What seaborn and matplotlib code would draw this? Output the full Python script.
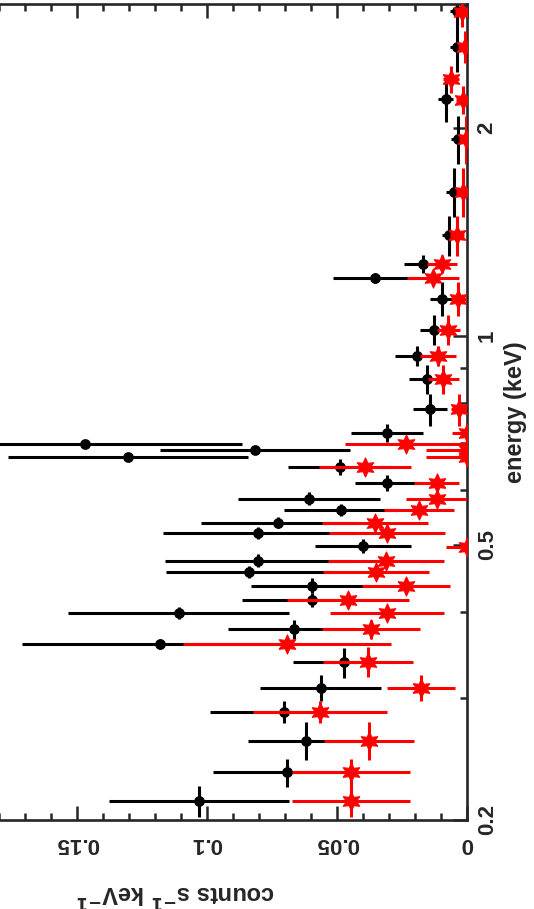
import numpy as np
import pandas as pd
import seaborn as sns
import matplotlib
matplotlib.use("Agg")
import matplotlib.pyplot as plt
from matplotlib.ticker import MultipleLocator, FixedLocator, FuncFormatter

# spectrum 1 (black circles): bin centre energy (keV), half bin width, rate, rate error
black_energy = [0.2133, 0.2344, 0.2604, 0.2868, 0.3101, 0.3380, 0.3591, 0.3772, 0.3981, 0.4160,
                0.4363, 0.4567, 0.4741, 0.4978, 0.5203, 0.5379, 0.5606, 0.5826, 0.6132, 0.6474,
                0.6699, 0.6850, 0.6982, 0.7242, 0.7844, 0.8668, 0.9377, 1.0213, 1.1322, 1.2153,
                1.2708, 1.4010, 1.6181, 1.9266, 2.2004, 2.6216, 2.9550]
black_denergy = [0.0110, 0.0109, 0.0165, 0.0108, 0.0134, 0.0169, 0.0060, 0.0119, 0.0079, 0.0097,
                 0.0109, 0.0091, 0.0103, 0.0116, 0.0104, 0.0098, 0.0112, 0.0126, 0.0163, 0.0162,
                 0.0078, 0.0068, 0.0058, 0.0217, 0.0418, 0.0404, 0.0312, 0.0510, 0.0640, 0.0202,
                 0.0381, 0.0932, 0.1292, 0.1506, 0.1611, 0.2137, 0.1278]
black_rate = [0.1032, 0.0693, 0.0619, 0.0703, 0.0563, 0.0472, 0.1181, 0.0665, 0.1108, 0.0597,
              0.0597, 0.0838, 0.0802, 0.0401, 0.0805, 0.0726, 0.0485, 0.0607, 0.0307, 0.0488,
              0.1303, 0.0815, 0.1469, 0.0307, 0.0142, 0.0155, 0.0191, 0.0126, 0.0095, 0.0354,
              0.0168, 0.0068, 0.0050, 0.0033, 0.0081, 0.0037, 0.0037]
black_rate_err = [0.0346, 0.0285, 0.0223, 0.0285, 0.0233, 0.0196, 0.0531, 0.0254, 0.0425, 0.0269,
                  0.0235, 0.0319, 0.0358, 0.0185, 0.0365, 0.0296, 0.0219, 0.0273, 0.0123, 0.0200,
                  0.0462, 0.0365, 0.0604, 0.0138, 0.0065, 0.0069, 0.0085, 0.0054, 0.0046, 0.0162,
                  0.0073, 0.0030, 0.0030, 0.0030, 0.0029, 0.0027, 0.0027]

# spectrum 2 (red stars)
red_energy = [0.2133, 0.2344, 0.2604, 0.2868, 0.3101, 0.3387, 0.3591, 0.3772, 0.3981, 0.4160,
              0.4360, 0.4560, 0.4736, 0.4966, 0.5203, 0.5379, 0.5610, 0.5816, 0.6132, 0.6470,
              0.6699, 0.6850, 0.6982, 0.7242, 0.7844, 0.8668, 0.9377, 1.0213, 1.1322, 1.2153,
              1.2708, 1.4010, 1.6181, 1.9266, 2.1960, 2.3520, 2.6210, 2.9450]
red_denergy = [0.0110, 0.0109, 0.0165, 0.0108, 0.0134, 0.0169, 0.0060, 0.0119, 0.0079, 0.0097,
               0.0109, 0.0091, 0.0103, 0.0116, 0.0104, 0.0098, 0.0112, 0.0126, 0.0163, 0.0162,
               0.0078, 0.0068, 0.0058, 0.0217, 0.0418, 0.0404, 0.0312, 0.0510, 0.0640, 0.0202,
               0.0381, 0.0932, 0.1292, 0.1506, 0.1023, 0.1056, 0.1395, 0.1470]
red_rate = [0.0447, 0.0447, 0.0376, 0.0565, 0.0178, 0.0380, 0.0693, 0.0369, 0.0309, 0.0459,
            0.0235, 0.0350, 0.0312, 0.0001, 0.0309, 0.0354, 0.0184, 0.0117, 0.0117, 0.0392,
            0.0001, 0.0001, 0.0235, 0.0001, 0.0030, 0.0091, 0.0113, 0.0072, 0.0033, 0.0132,
            0.0097, 0.0037, 0.0016, 0.0004, 0.0014, 0.0062, 0.0008, 0.0021]
red_rate_err = [0.0226, 0.0227, 0.0173, 0.0258, 0.0131, 0.0173, 0.0400, 0.0188, 0.0219, 0.0235,
                0.0169, 0.0204, 0.0223, 0.0081, 0.0223, 0.0204, 0.0135, 0.0119, 0.0085, 0.0177,
                0.0158, 0.0158, 0.0235, 0.0058, 0.0030, 0.0060, 0.0069, 0.0045, 0.0030, 0.0100,
                0.0058, 0.0027, 0.0027, 0.0027, 0.0027, 0.0031, 0.0027, 0.0027]

energy_ticks = [0.2, 0.5, 1, 2]
energy_minor = [0.3, 0.4, 0.6, 0.7, 0.8, 0.9, 3]


def main():
    sns.set_style("ticks")
    plt.rcParams.update({
        "font.family": ["Liberation Sans", "DejaVu Sans"],
        "font.weight": "bold",
        "mathtext.default": "bf",
        "axes.linewidth": 1.9,
    })

    df1 = pd.DataFrame({"energy": black_energy, "rate": black_rate})
    df2 = pd.DataFrame({"energy": red_energy, "rate": red_rate})

    fig = plt.figure(figsize=(5.34, 9.09), dpi=100)
    ax = fig.add_axes([-1 / 534, 1 - 820 / 909, 468 / 534, 816 / 909])

    # rotated layout: counts run along the horizontal axis, energy along the vertical one
    ax.errorbar(black_rate, black_energy, xerr=black_rate_err, yerr=black_denergy,
                fmt="none", ecolor="black", elinewidth=2.2, capsize=0, zorder=2)
    sns.scatterplot(data=df1, x="rate", y="energy", ax=ax, color="black", marker="o",
                    s=60, edgecolor="black", linewidth=0, zorder=3)
    ax.errorbar(red_rate, red_energy, xerr=red_rate_err, yerr=red_denergy,
                fmt="none", ecolor="red", elinewidth=2.2, capsize=0, zorder=4)
    sns.scatterplot(data=df2, x="rate", y="energy", ax=ax, color="red", marker=(6, 1, 0),
                    s=190, edgecolor="red", linewidth=0.8, zorder=5)

    ax.set_yscale("log")
    ax.set_xlim(0.18, 0)
    ax.set_ylim(0.2, 3.02)

    ax.xaxis.set_major_locator(MultipleLocator(0.05))
    ax.xaxis.set_minor_locator(MultipleLocator(0.01))
    ax.xaxis.set_major_formatter(FuncFormatter(lambda v, p: "%g" % round(v, 3)))
    ax.tick_params(axis="x", which="both", direction="in", top=True, bottom=True,
                   labelsize=16, pad=9, width=1.8)
    ax.tick_params(axis="x", which="major", length=10)
    ax.tick_params(axis="x", which="minor", length=5)
    for lab in ax.get_xticklabels():
        lab.set_rotation(180)
        lab.set_fontweight("bold")

    ax.yaxis.tick_right()
    ax.yaxis.set_major_locator(FixedLocator(energy_ticks))
    ax.yaxis.set_minor_locator(FixedLocator(energy_minor))
    ax.yaxis.set_major_formatter(FuncFormatter(lambda v, p: "%g" % v))
    ax.yaxis.set_minor_formatter(FuncFormatter(lambda v, p: ""))
    ax.tick_params(axis="y", which="both", direction="in", right=True, left=False,
                   labelsize=16, pad=7, width=1.8)
    ax.tick_params(axis="y", which="major", length=10)
    ax.tick_params(axis="y", which="minor", length=5)
    for lab in ax.get_yticklabels():
        lab.set_rotation(90)
        lab.set_va("center")
        lab.set_fontweight("bold")

    ax.spines["left"].set_visible(False)

    ax.set_xlabel(r"counts s$^{-1}$ keV$^{-1}$", fontsize=17, fontweight="bold", rotation=180)
    ax.xaxis.set_label_coords(0.378, -0.0895)
    ax.xaxis.label.set_va("center")
    ax.xaxis.label.set_ha("center")

    ax.set_ylabel("energy (keV)", fontsize=17, fontweight="bold", rotation=90)
    ax.yaxis.set_label_position("right")
    ax.yaxis.set_label_coords(1.1026, 0.5)
    ax.yaxis.label.set_va("center")
    ax.yaxis.label.set_ha("center")

    fig.savefig("out.png", dpi=100)


if __name__ == "__main__":
    main()
